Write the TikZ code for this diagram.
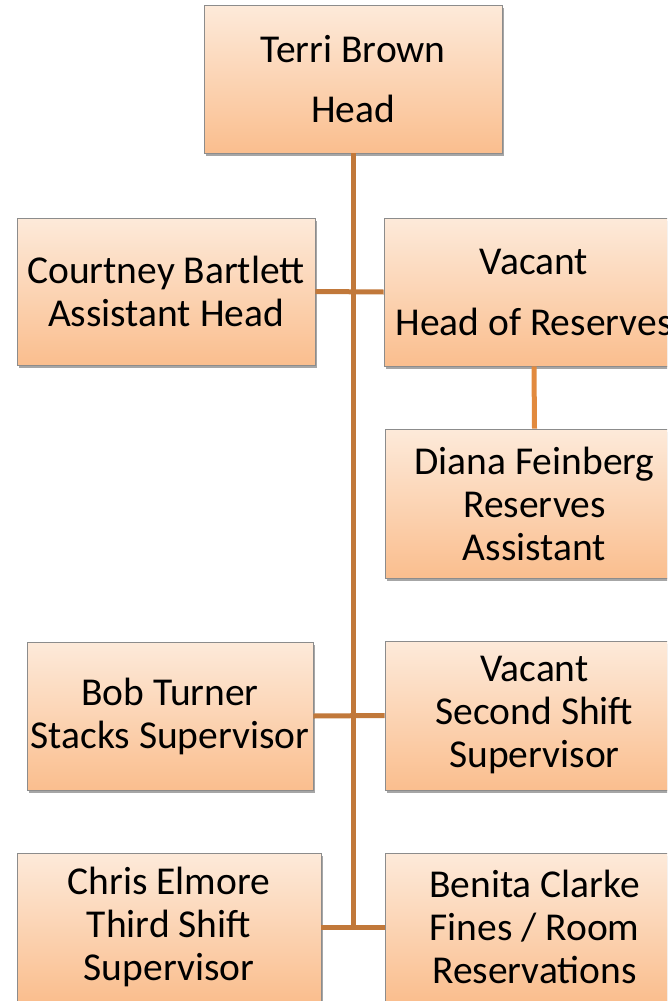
\documentclass[tikz,border=0pt]{standalone}
\usepackage{fontspec}
\setmainfont{Carlito}
\usetikzlibrary{shadows}
\definecolor{boxtop}{RGB}{253,234,218}
\definecolor{boxbot}{RGB}{250,190,142}
\definecolor{boxline}{RGB}{140,140,140}
\definecolor{trunk}{RGB}{193,120,58}
\definecolor{subline}{RGB}{226,138,62}
\tikzset{
  orgbox/.style={rectangle, draw=boxline, line width=0.8pt, top color=boxtop, bottom color=boxbot,
    inner sep=0pt, align=center, font=\fontsize{39.5}{43}\selectfont,
    drop shadow={shadow xshift=2pt, shadow yshift=-3pt, opacity=0.35, fill=black}},
  conn/.style={draw=trunk, line width=5pt},
  subconn/.style={draw=subline, line width=5pt}
}
\begin{document}
\begin{tikzpicture}[x=1pt,y=-1pt]
\useasboundingbox (0,0) rectangle (667,1001);
\clip (0,0) rectangle (667,1001);
% connectors first (behind boxes)
\coordinate (j1) at (353,292);
\coordinate (j2) at (353,716);
\coordinate (j3) at (353,927);
\node[orgbox, minimum width=298pt, minimum height=148pt] (terri) at (353,79) {Terri Brown\\[17pt]Head};
\node[orgbox, minimum width=298pt, minimum height=147pt] (courtney) at (166,291.5) {Courtney Bartlett\\Assistant Head};
\node[orgbox, minimum width=300pt, minimum height=148pt] (vacanthr) at (534,292) {Vacant\\[18pt]Head of Reserves};
\node[orgbox, minimum width=299pt, minimum height=149pt] (diana) at (534.5,503.5) {Diana Feinberg\\Reserves\\Assistant};
\node[orgbox, minimum width=286pt, minimum height=148pt] (bob) at (170,716) {Bob Turner\\Stacks Supervisor};
\node[orgbox, minimum width=299pt, minimum height=149pt] (vacant2) at (534.5,715.5) {Vacant\\Second Shift\\Supervisor};
\node[orgbox, minimum width=304pt, minimum height=148pt] (chris) at (169,927) {Chris Elmore\\Third Shift\\Supervisor};
\node[orgbox, minimum width=299pt, minimum height=148pt] (benita) at (534.5,927) {Benita Clarke\\Fines / Room\\Reservations};
% connectors
\draw[conn] (terri.south) -- (j3);
\draw[conn] (courtney.east) -- (vacanthr.west);
\draw[conn] (bob.east) -- (vacant2.west);
\draw[conn] (chris.east) -- (benita.west);
\draw[subconn] (vacanthr.south) -- (diana.north);
\end{tikzpicture}
\end{document}
